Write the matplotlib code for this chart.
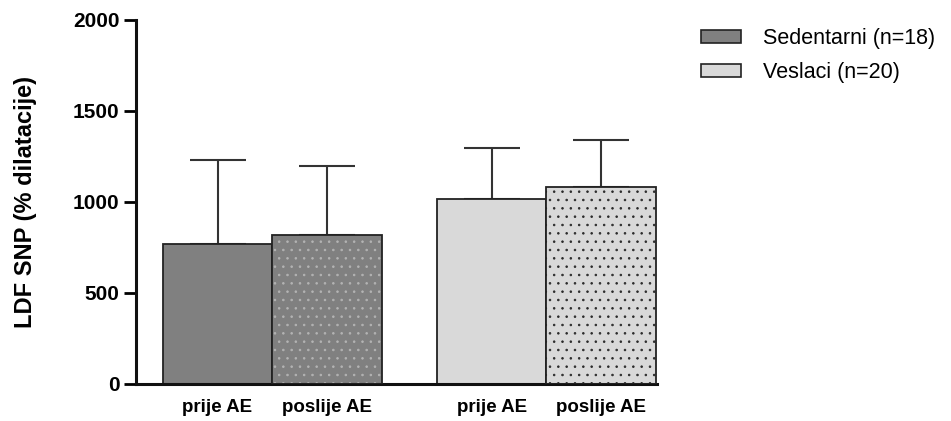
import numpy as np
import matplotlib
matplotlib.use("Agg")
import matplotlib.pyplot as plt
from matplotlib.patches import Patch

plt.rcParams['font.family'] = ['Liberation Sans', 'DejaVu Sans']
plt.rcParams['hatch.linewidth'] = 0.6

# Data
labels = ["prije AE", "poslije AE", "prije AE", "poslije AE"]
means = [770, 820, 1015, 1085]
sds = [460, 380, 280, 255]
groups = ["Sedentarni (n=18)", "Veslaci (n=20)"]

x = np.array([0, 1, 2.5, 3.5])
dark = "#808080"
light = "#d9d9d9"
fills = [dark, dark, light, light]
hatches = [None, "..", None, ".."]
hatch_cols = [None, "#b4b4b4", None, "#2a2a2a"]

fig = plt.figure(figsize=(9.51, 4.21), dpi=100)
ax = fig.add_axes([0.143, 0.0879, 0.548, 0.8646])

# error bars (upper only)
ax.errorbar(x, means, yerr=[np.zeros(4), sds], fmt="none", ecolor="#333333",
            elinewidth=1.5, capsize=20, capthick=1.5, zorder=1)

for xi, m, fc, h, hc in zip(x, means, fills, hatches, hatch_cols):
    if h:
        ax.bar(xi, m, width=1.0, color=fc, edgecolor=hc, hatch=h, linewidth=0, zorder=2)
        ax.bar(xi, m, width=1.0, fill=False, edgecolor="#222222", linewidth=1.3, zorder=3)
    else:
        ax.bar(xi, m, width=1.0, color=fc, edgecolor="#222222", linewidth=1.3, zorder=2)

ax.set_xlim(-0.744, 4.01)
ax.set_ylim(0, 2000)
ax.set_yticks([0, 500, 1000, 1500, 2000])
ax.set_xticks(x)
ax.set_xticklabels(labels, fontsize=13.5, fontweight="bold")
ax.tick_params(axis="x", length=0, pad=11)
ax.tick_params(axis="y", direction="out", length=9, width=2, labelsize=15, pad=3)
for t in ax.get_yticklabels():
    t.set_fontweight("bold")

for s in ["top", "right"]:
    ax.spines[s].set_visible(False)
for s in ["left", "bottom"]:
    ax.spines[s].set_linewidth(2.2)
    ax.spines[s].set_color("#111111")

ax.set_ylabel("LDF SNP (% dilatacije)", fontsize=17, fontweight="bold", labelpad=26)

handles = [Patch(facecolor=dark, edgecolor="#222222", linewidth=1.2),
           Patch(facecolor=light, edgecolor="#222222", linewidth=1.2)]
fig.legend(handles, groups, loc="upper left", bbox_to_anchor=(0.717, 0.98),
           frameon=False, fontsize=15.5, handlelength=1.85, handleheight=0.55,
           handletextpad=1.0, labelspacing=0.62)

fig.savefig("out.png", dpi=100)
